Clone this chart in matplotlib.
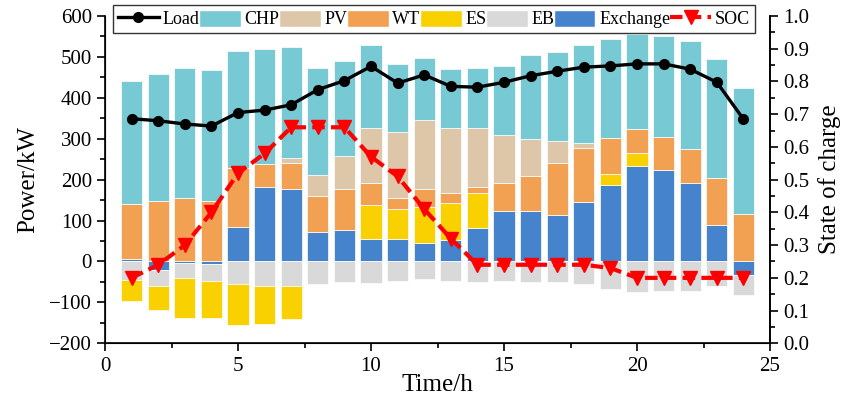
import numpy as np
import matplotlib
matplotlib.use("Agg")
import matplotlib.pyplot as plt
from matplotlib.ticker import MultipleLocator, FormatStrFormatter
from matplotlib.patches import Patch
from matplotlib.lines import Line2D

plt.rcParams['font.family'] = ['Liberation Serif', 'DejaVu Serif']

hours = list(range(1, 25))
load = [349, 344, 336, 331, 364, 370, 383, 420, 442, 477, 436, 456,
        428, 426, 438, 454, 465, 475, 478, 483, 483, 470, 438, 348]
chp = [302, 311, 317, 322, 286, 282, 271, 262, 233, 202, 166, 150,
       144, 147, 169, 205, 217, 240, 243, 232, 247, 265, 290, 310]
pv = [0, 0, 0, 0, 0, 0, 12, 51, 82, 133, 162, 171,
      159, 144, 117, 90, 54, 12, 0, 0, 0, 0, 0, 0]
wt = [133, 147, 156, 147, 145, 57, 65, 87, 98, 54, 27, 43,
      25, 15, 69, 85, 128, 132, 87, 57, 82, 82, 117, 115]
es = [-51, -58, -98, -92, -99, -93, -81, 0, 0, 85, 74, 87,
      90, 84, 0, 0, 0, 0, 28, 33, 0, 0, 0, 0]
eb = [-45, -40, -37, -40, -56, -60, -59, -56, -50, -53, -47, -43,
      -47, -50, -48, -50, -50, -56, -68, -74, -71, -71, -60, -49]
exchange = [7, -20, -4, -7, 84, 181, 176, 73, 78, 54, 54, 46,
            52, 83, 124, 124, 113, 146, 187, 233, 223, 193, 88, -32]
soc = [0.20, 0.24, 0.30, 0.40, 0.52, 0.58, 0.66, 0.66, 0.66, 0.57, 0.51, 0.41,
       0.32, 0.24, 0.24, 0.24, 0.24, 0.24, 0.23, 0.20, 0.20, 0.20, 0.20, 0.20]

colors = {
    'CHP': '#77C9D4',
    'PV': '#DEC6A9',
    'WT': '#F2A152',
    'ES': '#F9D000',
    'EB': '#D9D9D9',
    'Exchange': '#4584CD',
}

fig = plt.figure(figsize=(8.49, 4.05), dpi=100)
ax = fig.add_axes([0.1237, 0.1523, 0.7833, 0.8082])

x = np.array(hours)
pos_base = np.zeros(len(x))
neg_base = np.zeros(len(x))
# stacking order from the zero line outwards
series = [('Exchange', exchange), ('EB', eb), ('ES', es),
          ('WT', wt), ('PV', pv), ('CHP', chp)]
for name, vals in series:
    v = np.array(vals, dtype=float)
    bottom = np.where(v >= 0, pos_base, neg_base)
    ax.bar(x, v, width=0.8, bottom=bottom, color=colors[name],
           edgecolor='white', linewidth=0.5, zorder=2)
    pos_base = pos_base + np.where(v > 0, v, 0)
    neg_base = neg_base + np.where(v < 0, v, 0)

ax.plot(x, load, color='black', lw=2.4, marker='o', ms=7, zorder=5)

ax.set_xlim(0, 25)
ax.set_ylim(-200, 600)
ax.xaxis.set_major_locator(MultipleLocator(5))
ax.xaxis.set_minor_locator(MultipleLocator(2.5))
ax.yaxis.set_major_locator(MultipleLocator(100))
ax.yaxis.set_minor_locator(MultipleLocator(50))
ax.tick_params(which='both', direction='out', width=1.2, labelsize=15)
ax.tick_params(which='major', length=6)
ax.tick_params(which='minor', length=3.5)
ax.spines['top'].set_visible(False)
for s in ('left', 'bottom', 'right'):
    ax.spines[s].set_linewidth(1.2)
ax.set_xlabel('Time/h', fontsize=18, labelpad=-1)
ax.set_ylabel('Power/kW', fontsize=18, labelpad=7)

ax2 = ax.twinx()
ax2.plot(x, soc, color='#FF0000', lw=3, ls=(0, (3, 1.5)), marker='v', ms=9.5,
         zorder=5)
ax2.set_ylim(0, 1.0)
ax2.yaxis.set_major_locator(MultipleLocator(0.1))
ax2.yaxis.set_minor_locator(MultipleLocator(0.05))
ax2.yaxis.set_major_formatter(FormatStrFormatter('%.1f'))
ax2.tick_params(which='both', direction='out', width=1.2, labelsize=15)
ax2.tick_params(which='major', length=6)
ax2.tick_params(which='minor', length=3.5)
ax2.spines['top'].set_visible(False)
ax2.spines['right'].set_linewidth(1.2)
ax2.set_ylabel('State of charge', fontsize=18, labelpad=6)

handles = [Line2D([], [], color='black', lw=2.4, marker='o', ms=7)]
labels = ['Load']
for name in ['CHP', 'PV', 'WT', 'ES', 'EB', 'Exchange']:
    handles.append(Patch(facecolor=colors[name], edgecolor='white'))
    labels.append(name)
handles.append(Line2D([], [], color='#FF0000', lw=3, ls=(0, (3, 1.5)),
                      marker='v', ms=9.5))
labels.append('SOC')

leg = ax2.legend(handles, labels, ncol=8, loc='center',
                 bbox_to_anchor=(0.012, 0.954, 0.965, 0.0735), mode='expand',
                 fontsize=13, frameon=True, fancybox=False, borderaxespad=0,
                 handlelength=2.3, handleheight=1.1, handletextpad=0.2,
                 columnspacing=0.4, borderpad=0.25, numpoints=1)
leg.get_frame().set_edgecolor('black')
leg.get_frame().set_linewidth(1.0)
leg.set_zorder(10)

fig.savefig('out.png', dpi=100)
